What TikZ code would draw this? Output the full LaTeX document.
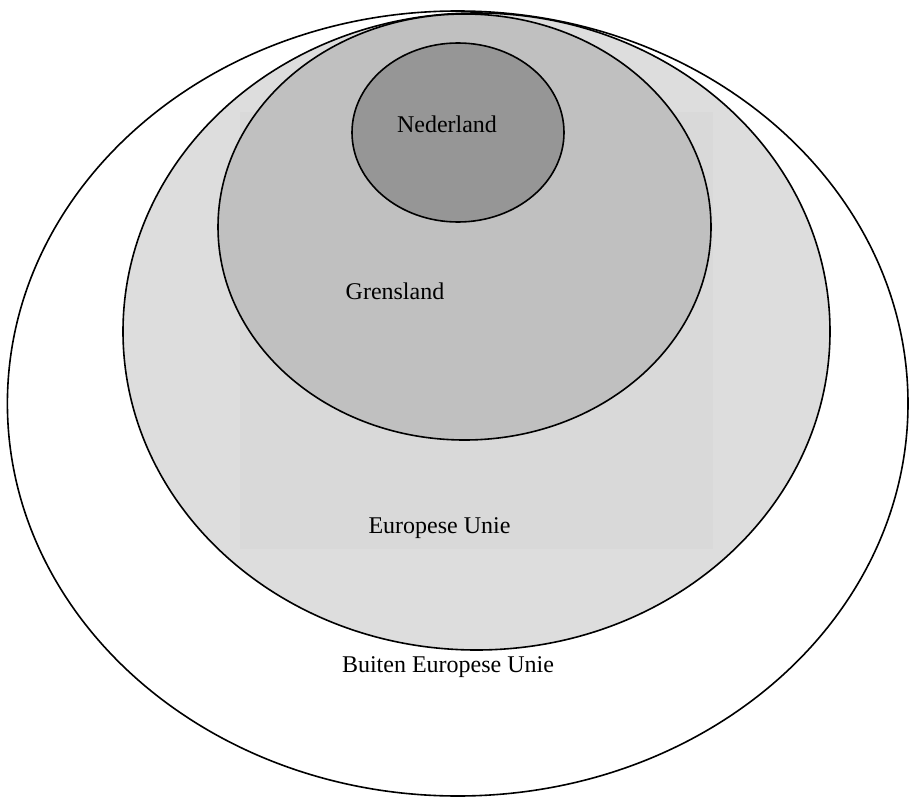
\documentclass[tikz,border=0pt]{standalone}
\usepackage{fontspec}
\setmainfont{Liberation Serif}
\definecolor{euGray}{HTML}{DDDDDD}
\definecolor{boxGray}{HTML}{D9D9D9}
\definecolor{grensGray}{HTML}{C0C0C0}
\definecolor{nlGray}{HTML}{969696}
\begin{document}
\begin{tikzpicture}[x=1pt,y=-1pt,
  ring/.style={draw=black,line width=1.6pt},
  lbl/.style={font=\fontsize{24}{28}\selectfont,anchor=base,inner sep=0pt}]
\useasboundingbox (0,0) rectangle (910,797);
\fill[white] (0,0) rectangle (910,797);
\draw[ring,fill=white] (457.7,403.5) ellipse [x radius=450.3,y radius=392.5];
\draw[ring,fill=euGray] (476.5,331.5) ellipse [x radius=353.5,y radius=318.5];
\begin{scope}
\clip (476.5,331.5) ellipse [x radius=352.5,y radius=317.5];
\fill[boxGray] (240,112) rectangle (712.5,549);
\end{scope}
\draw[ring,fill=grensGray] (464.5,227) ellipse [x radius=246.5,y radius=213];
\draw[ring,fill=nlGray] (458,132.5) ellipse [x radius=106,y radius=89.5];
\node[lbl] (nl) at (447,133) {Nederland};
\node[lbl] (gl) at (395,299) {Grensland};
\node[lbl] (eu) at (439.5,533) {Europese Unie};
\node[lbl] (beu) at (448,672) {Buiten Europese Unie};
\end{tikzpicture}
\end{document}
